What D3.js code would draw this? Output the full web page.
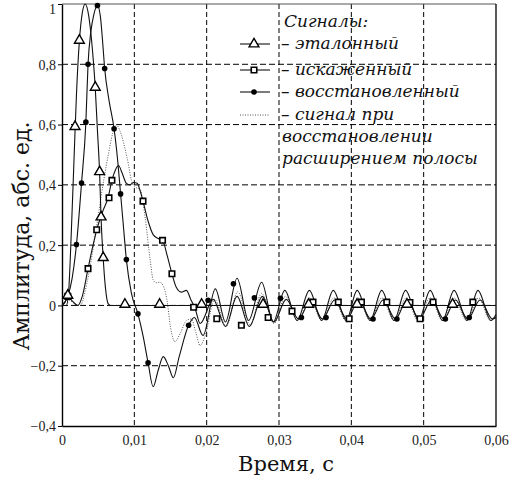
<!DOCTYPE html>
<html><head><meta charset="utf-8">
<script src="https://cdn.jsdelivr.net/npm/d3@7"></script>
<style>body{margin:0;background:#fff}svg{display:block}
text{font-family:"Liberation Serif","DejaVu Serif",serif}
</style>
</head><body><svg id="c" width="518" height="480"></svg>
<script>
// ---- data ----
const xTicks=[0,0.01,0.02,0.03,0.04,0.05,0.06];
const xTickLabels=["0","0,01","0,02","0,03","0,04","0,05","0,06"];
const yTicks=[-0.4,-0.2,0,0.2,0.4,0.6,0.8,1];
const yTickLabels=["−0,4","−0,2","0","0,2","0,4","0,6","0,8","1"];
const xTitle="Время, с";
const yTitle="Амплитуда, абс. ед.";
const legendTitle="Сигналы:";
const seriesNames=["– эталонный","– искаженный","– восстановленный","– сигнал при"];
const legendExtra=["восстановлении","расширением полосы"];

// эталонный (triangles)
const refT=[0,0.0006,0.0009,0.0013,0.0017,0.002,0.0024,0.0028,0.0032,0.0037,0.0042,0.0046,0.0049,0.0052,0.0054,0.0057,0.006,0.0064,0.0067,0.06];
const refV=[0,0,0.04,0.25,0.51,0.7,0.876,0.97,1.0,0.96,0.85,0.72,0.58,0.44,0.29,0.155,0.06,0.005,0,0];
const refMarkT=[0.0008,0.0018,0.0024,0.0046,0.0052,0.0054,0.0057,0.0087,0.0135,0.0193,0.0278,0.0341,0.0408,0.0477,0.054];
const refMarkV=[0.03,0.59,0.876,0.72,0.44,0.29,0.155,0,0,0,0,0,0,0,0];

// искаженный (squares)
const distT=[0,0.0004,0.0008,0.0014,0.0022,0.0028,0.0036,0.0042,0.0048,0.0056,0.0064,0.0069,0.0074,0.0078,0.0083,0.0089,0.0094,0.0099,0.0104,0.0108,0.0112,0.0119,0.0126,0.0133,0.0139,0.0146,0.0152,0.0158,0.0165,0.0172,0.0178,0.0184,0.0191,0.0209,0.0226,0.0242,0.0259,0.0277,0.0293,0.031,0.0327,0.0344,0.036,0.0377,0.0394,0.041,0.0427,0.0444,0.0461,0.0477,0.0494,0.0511,0.0528,0.0544,0.0561,0.0578,0.0595,0.06];
const distV=[0,0.01,0.03,0.015,0,0.03,0.122,0.19,0.251,0.31,0.36,0.415,0.45,0.464,0.44,0.405,0.40,0.408,0.405,0.38,0.346,0.28,0.235,0.222,0.216,0.16,0.105,0.06,0.044,0.05,0.02,-0.01,-0.06,0.02,-0.07,0.03,-0.07,0.03,-0.055,0.02,-0.045,0.018,-0.045,0.018,-0.045,0.018,-0.045,0.018,-0.045,0.018,-0.045,0.018,-0.045,0.018,-0.045,0.018,-0.045,-0.04];
const distMarkT=[0.0008,0.0036,0.0048,0.0065,0.0069,0.0112,0.0139,0.0152,0.0182,0.0214,0.0248,0.0285,0.0318,0.0347,0.0382,0.0397,0.0414,0.0449,0.0481,0.0495,0.0513,0.0568];
const distMarkV=[0.03,0.122,0.251,0.357,0.415,0.346,0.216,0.105,-0.006,-0.044,-0.066,-0.04,-0.019,0.011,0.011,-0.044,0.011,0.011,0.01,-0.044,0.011,0.011];

// восстановленный (circles)
const restT=[0,0.0008,0.0014,0.002,0.0027,0.0033,0.0036,0.004,0.0044,0.0049,0.0053,0.0056,0.0059,0.0065,0.0072,0.0077,0.0081,0.0085,0.0089,0.0096,0.0105,0.0112,0.0119,0.0126,0.0133,0.014,0.0147,0.0154,0.0162,0.0175,0.0183,0.0195,0.0212,0.0226,0.0242,0.0258,0.0276,0.0292,0.0308,0.0325,0.0342,0.0359,0.0375,0.0393,0.0408,0.0426,0.0442,0.0459,0.0475,0.0493,0.0509,0.0526,0.0542,0.056,0.0575,0.0593,0.06];
const restV=[0,0.03,0.09,0.202,0.406,0.608,0.8,0.91,0.965,0.995,0.96,0.88,0.786,0.68,0.586,0.48,0.37,0.26,0.152,0.04,-0.028,-0.1,-0.19,-0.27,-0.215,-0.17,-0.2,-0.24,-0.17,-0.066,-0.04,-0.1,0.055,-0.055,0.09,-0.05,0.077,-0.055,0.05,-0.05,0.05,-0.05,0.05,-0.05,0.05,-0.05,0.05,-0.05,0.05,-0.05,0.05,-0.05,0.05,-0.05,0.05,-0.05,-0.03];
const restMarkT=[0.002,0.0027,0.0033,0.0036,0.0049,0.0059,0.0072,0.0081,0.0089,0.0105,0.0119,0.0175,0.0202,0.0237,0.0266,0.0302,0.0331,0.0365,0.043,0.0463,0.053,0.0563];
const restMarkV=[0.202,0.406,0.608,0.8,0.995,0.786,0.586,0.37,0.152,-0.028,-0.19,-0.066,0.017,0.072,0.025,0.024,-0.04,-0.04,-0.045,-0.045,-0.045,-0.04];

// сигнал при восстановлении расширением полосы (dotted)
const bandT=[0,0.0008,0.0015,0.0025,0.0035,0.0047,0.0058,0.0064,0.007,0.0075,0.008,0.009,0.0098,0.0103,0.0108,0.0115,0.0122,0.0126,0.013,0.0135,0.014,0.0145,0.015,0.0156,0.0164,0.0172,0.0179,0.0185,0.0191,0.0198,0.0211,0.0227,0.0243,0.026,0.0276,0.0293,0.0309,0.0326,0.0342,0.0359,0.0376,0.0392,0.0409,0.0426,0.0442,0.0459,0.0476,0.0492,0.0509,0.0526,0.0542,0.0559,0.0576,0.0592,0.06];
const bandV=[0,0.02,0.01,0,0.08,0.25,0.42,0.5,0.57,0.6,0.58,0.49,0.40,0.39,0.385,0.29,0.149,0.085,0.075,0.077,0.065,0.02,-0.072,-0.12,-0.09,-0.05,-0.045,-0.09,-0.133,-0.1,0.02,-0.07,0.045,-0.065,0.04,-0.06,0.03,-0.05,0.025,-0.05,0.025,-0.05,0.025,-0.05,0.025,-0.05,0.025,-0.05,0.025,-0.05,0.025,-0.05,0.025,-0.05,-0.03];

// ---- chart ----
const svg=d3.select("#c");
const x=d3.scaleLinear().domain([0,0.06]).range([62,496]);
const y=d3.scaleLinear().domain([-0.4,1]).range([426,4]);
const SERIF='"Liberation Serif","DejaVu Serif",serif';
const WIDE='"DejaVu Serif","Liberation Serif",serif';

// grid
const g=svg.append("g");
g.selectAll("line.vx").data(xTicks.filter(d=>d>0&&d<0.06)).join("line")
 .attr("x1",d=>x(d)).attr("x2",d=>x(d)).attr("y1",y(1)).attr("y2",y(-0.4))
 .attr("stroke","#000").attr("stroke-width",1).attr("stroke-dasharray","5,3");
g.selectAll("line.hy").data(yTicks.filter(d=>d>-0.4&&d<1)).join("line")
 .attr("x1",x(0)).attr("x2",x(0.06)).attr("y1",d=>y(d)).attr("y2",d=>y(d))
 .attr("stroke","#000").attr("stroke-width",1).attr("stroke-dasharray","6,3");
// frame
svg.append("line").attr("x1",x(0)).attr("x2",x(0.06)).attr("y1",y(1)).attr("y2",y(1)).attr("stroke","#555").attr("stroke-width",1.2);
svg.append("line").attr("x1",x(0.06)).attr("x2",x(0.06)).attr("y1",y(1)).attr("y2",y(-0.4)).attr("stroke","#000").attr("stroke-width",1.3);

// axes
const yAxis=d3.axisLeft(y).tickValues(yTicks).tickSize(4).tickSizeOuter(0).tickFormat((d,i)=>yTickLabels[i]);
const ya=svg.append("g").attr("transform",`translate(${x(0)},0)`).call(yAxis);
ya.attr("font-family",null);
ya.select(".domain").attr("stroke-width",1.4);
ya.selectAll("text").style("font-family",SERIF).style("font-size","14px").attr("fill","#222").attr("dx",1)
  .attr("dy",(d)=>d===1?"0.7em":"0.35em");
const xAxis=d3.axisBottom(x).tickValues(xTicks).tickSize(0).tickSizeOuter(0).tickPadding(9).tickFormat((d,i)=>xTickLabels[i]);
const xa=svg.append("g").attr("transform",`translate(0,${y(-0.4)})`).call(xAxis);
xa.attr("font-family",null);
xa.select(".domain").attr("stroke-width",1.4);
xa.selectAll("text").style("font-family",SERIF).style("font-size","14px").attr("fill","#222");

svg.append("text").attr("x",286).attr("y",471).attr("text-anchor","middle")
 .style("font-family",WIDE).style("font-size","21px").attr("fill","#111").text(xTitle);
svg.append("text").attr("transform","translate(29,236) rotate(-90)").attr("text-anchor","middle")
 .style("font-family",WIDE).style("font-size","22px").attr("fill","#111").text(yTitle);

// curves
const line=d3.line().x(d=>x(d[0])).y(d=>y(d[1])).curve(d3.curveMonotoneX);
const cg=svg.append("g");
cg.append("path").datum(d3.zip(bandT,bandV)).attr("d",line).attr("fill","none").attr("stroke","#555").attr("stroke-width",1).attr("stroke-dasharray","1,1.5");
cg.append("path").datum(d3.zip(distT,distV)).attr("d",line).attr("fill","none").attr("stroke","#111").attr("stroke-width",1.1);
cg.append("path").datum(d3.zip(restT,restV)).attr("d",line).attr("fill","none").attr("stroke","#111").attr("stroke-width",1.1);
cg.append("path").datum(d3.zip(refT,refV)).attr("d",line).attr("fill","none").attr("stroke","#111").attr("stroke-width",1.1);

const tri=d3.symbol().type(d3.symbolTriangle).size(42);
const sq=d3.symbol().type(d3.symbolSquare).size(30);
function triangles(sel,data){sel.selectAll(null).data(data).join("path").attr("d",tri)
  .attr("transform",d=>`translate(${x(d[0])},${y(d[1])-1})`).attr("fill","#fff").attr("stroke","#000").attr("stroke-width",1.4);}
function squares(sel,data){sel.selectAll(null).data(data).join("path").attr("d",sq)
  .attr("transform",d=>`translate(${x(d[0])},${y(d[1])})`).attr("fill","#fff").attr("stroke","#000").attr("stroke-width",1.6);}
function circles(sel,data){sel.selectAll(null).data(data).join("circle")
  .attr("cx",d=>x(d[0])).attr("cy",d=>y(d[1])).attr("r",2.8).attr("fill","#000");}
squares(svg.append("g"),d3.zip(distMarkT,distMarkV));
circles(svg.append("g"),d3.zip(restMarkT,restMarkV));
triangles(svg.append("g"),d3.zip(refMarkT,refMarkV));

// legend
const lg=svg.append("g");
const LX=281, rows=[44,70,92,115];
const LF="17px";
function ltext(xp,yp,s){lg.append("text").attr("x",xp).attr("y",yp).style("font-family",WIDE).style("font-style","italic").style("font-size",LF).attr("fill","#111").text(s);}
ltext(LX+3,27,legendTitle);
seriesNames.forEach((s,i)=>{
  ltext(LX,rows[i]+5,s);
  lg.append("line").attr("x1",240).attr("x2",270).attr("y1",rows[i]).attr("y2",rows[i])
    .attr("stroke",i===3?"#555":"#111").attr("stroke-width",1.1).attr("stroke-dasharray",i===3?"1,1.5":null);
});
triangles(lg,[[x.invert(254),y.invert(rows[0]+1)]]);
squares(lg,[[x.invert(254),y.invert(rows[1])]]);
circles(lg,[[x.invert(254),y.invert(rows[2])]]);
legendExtra.forEach((s,i)=>ltext(LX+1,rows[3]+5+22*(i+1),s));
</script></body></html>
